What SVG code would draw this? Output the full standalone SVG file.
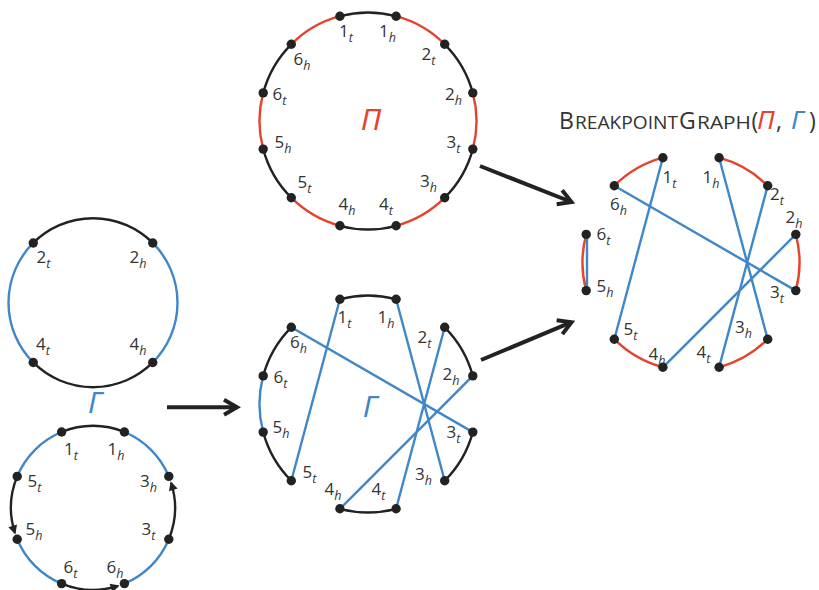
<svg xmlns="http://www.w3.org/2000/svg" width="819" height="590" viewBox="0 0 819 590">
<style>
.k{fill:none;stroke:#222;stroke-width:2.4}
.r{fill:none;stroke:#e4432d;stroke-width:2.4}
.b{fill:none;stroke:#3f87c7;stroke-width:2.4}
.big{fill:none;stroke:#222;stroke-width:4}
.d{fill:#222}
.l{font-family:"Open Sans","Noto Sans",sans-serif;font-size:17px;fill:#333}
.s{font-size:12.5px;font-style:italic}
.g{font-family:"Noto Sans","DejaVu Sans",sans-serif;font-style:italic}
.t{font-family:"Open Sans","Noto Sans",sans-serif;fill:#333}
</style>
<defs>
<marker id="tri" viewBox="-8 -5 11 10" refX="0" refY="0" markerWidth="11" markerHeight="10" markerUnits="userSpaceOnUse" orient="auto" overflow="visible">
<path d="M2,0 L-7,-4.5 L-7,4.5 Z" fill="#222"/>
</marker>
<marker id="vee" viewBox="-20 -11 27 22" refX="0" refY="0" markerWidth="27" markerHeight="22" markerUnits="userSpaceOnUse" orient="auto" overflow="visible">
<path d="M-13,-7.5 L0,0 L-13,7.5" fill="none" stroke="#222" stroke-width="4"/>
</marker>
</defs>

<g id="genome-pi">
<path class="k" d="M339.9,16.2 A108.5,108.5 0 0 1 396.1,16.2"/>
<path class="k" d="M444.7,44.3 A108.5,108.5 0 0 1 472.8,92.9"/>
<path class="k" d="M472.8,149.1 A108.5,108.5 0 0 1 444.7,197.7"/>
<path class="k" d="M396.1,225.8 A108.5,108.5 0 0 1 339.9,225.8"/>
<path class="k" d="M291.3,197.7 A108.5,108.5 0 0 1 263.2,149.1"/>
<path class="k" d="M263.2,92.9 A108.5,108.5 0 0 1 291.3,44.3"/>
<path class="r" d="M396.1,16.2 A108.5,108.5 0 0 1 444.7,44.3"/>
<path class="r" d="M472.8,92.9 A108.5,108.5 0 0 1 472.8,149.1"/>
<path class="r" d="M444.7,197.7 A108.5,108.5 0 0 1 396.1,225.8"/>
<path class="r" d="M339.9,225.8 A108.5,108.5 0 0 1 291.3,197.7"/>
<path class="r" d="M263.2,149.1 A108.5,108.5 0 0 1 263.2,92.9"/>
<path class="r" d="M291.3,44.3 A108.5,108.5 0 0 1 339.9,16.2"/>
<circle class="d" cx="339.9" cy="16.2" r="4.7"/><circle class="d" cx="396.1" cy="16.2" r="4.7"/>
<circle class="d" cx="444.7" cy="44.3" r="4.7"/><circle class="d" cx="472.8" cy="92.9" r="4.7"/>
<circle class="d" cx="472.8" cy="149.1" r="4.7"/><circle class="d" cx="444.7" cy="197.7" r="4.7"/>
<circle class="d" cx="396.1" cy="225.8" r="4.7"/><circle class="d" cx="339.9" cy="225.8" r="4.7"/>
<circle class="d" cx="291.3" cy="197.7" r="4.7"/><circle class="d" cx="263.2" cy="149.1" r="4.7"/>
<circle class="d" cx="263.2" cy="92.9" r="4.7"/><circle class="d" cx="291.3" cy="44.3" r="4.7"/>
<text class="l" x="339" y="37">1<tspan class="s" dy="5">t</tspan></text>
<text class="l" x="379" y="37">1<tspan class="s" dy="5">h</tspan></text>
<text class="l" x="421.5" y="60">2<tspan class="s" dy="5">t</tspan></text>
<text class="l" x="445" y="100">2<tspan class="s" dy="5">h</tspan></text>
<text class="l" x="446.5" y="148">3<tspan class="s" dy="5">t</tspan></text>
<text class="l" x="420" y="187">3<tspan class="s" dy="5">h</tspan></text>
<text class="l" x="379" y="210">4<tspan class="s" dy="5">t</tspan></text>
<text class="l" x="338.5" y="210">4<tspan class="s" dy="5">h</tspan></text>
<text class="l" x="297.5" y="188">5<tspan class="s" dy="5">t</tspan></text>
<text class="l" x="274.5" y="148">5<tspan class="s" dy="5">h</tspan></text>
<text class="l" x="272.5" y="100">6<tspan class="s" dy="5">t</tspan></text>
<text class="l" x="293.5" y="65">6<tspan class="s" dy="5">h</tspan></text>
<text class="g" x="371" y="130" font-size="30" fill="#e4432d" text-anchor="middle">Π</text>
</g>

<g id="genome-gamma-chr1">
<path class="k" d="M33.25,242.95 A84.5,84.5 0 0 1 152.75,242.95"/>
<path class="k" d="M152.75,362.45 A84.5,84.5 0 0 1 33.25,362.45"/>
<path class="b" d="M152.75,242.95 A84.5,84.5 0 0 1 152.75,362.45"/>
<path class="b" d="M33.25,362.45 A84.5,84.5 0 0 1 33.25,242.95"/>
<circle class="d" cx="33.25" cy="242.95" r="4.7"/><circle class="d" cx="152.75" cy="242.95" r="4.7"/>
<circle class="d" cx="152.75" cy="362.45" r="4.7"/><circle class="d" cx="33.25" cy="362.45" r="4.7"/>
<text class="l" x="36.5" y="263">2<tspan class="s" dy="5">t</tspan></text>
<text class="l" x="129.5" y="263">2<tspan class="s" dy="5">h</tspan></text>
<text class="l" x="36" y="350">4<tspan class="s" dy="5">t</tspan></text>
<text class="l" x="129.5" y="350">4<tspan class="s" dy="5">h</tspan></text>
</g>

<g id="gamma-label">
<text class="g" x="95" y="413" font-size="29" fill="#3f87c7" text-anchor="middle">Γ</text>
</g>

<g id="genome-gamma-chr2">
<path class="k" d="M61.6,432 A82,82 0 0 1 124.4,432"/>
<path class="b" d="M124.4,432 A82,82 0 0 1 168.8,476.4"/>
<path class="b" d="M168.8,539.2 A82,82 0 0 1 124.4,583.6"/>
<path class="b" d="M61.6,583.6 A82,82 0 0 1 17.2,539.2"/>
<path class="b" d="M17.2,476.4 A82,82 0 0 1 61.6,432"/>
<path class="k" d="M168.8,539.2 A82,82 0 0 0 171.2,483.1" marker-end="url(#tri)"/>
<path class="k" d="M61.6,583.6 A82,82 0 0 0 117.7,586" marker-end="url(#tri)"/>
<path class="k" d="M17.2,476.4 A82,82 0 0 0 14.8,532.5" marker-end="url(#tri)"/>
<circle class="d" cx="61.6" cy="432" r="4.7"/><circle class="d" cx="124.4" cy="432" r="4.7"/>
<circle class="d" cx="168.8" cy="476.4" r="4.7"/><circle class="d" cx="168.8" cy="539.2" r="4.7"/>
<circle class="d" cx="124.4" cy="583.6" r="4.7"/><circle class="d" cx="61.6" cy="583.6" r="4.7"/>
<circle class="d" cx="17.2" cy="539.2" r="4.7"/><circle class="d" cx="17.2" cy="476.4" r="4.7"/>
<text class="l" x="64" y="455">1<tspan class="s" dy="5">t</tspan></text>
<text class="l" x="107.5" y="455">1<tspan class="s" dy="5">h</tspan></text>
<text class="l" x="140" y="487">3<tspan class="s" dy="5">h</tspan></text>
<text class="l" x="141.5" y="535">3<tspan class="s" dy="5">t</tspan></text>
<text class="l" x="106.5" y="573">6<tspan class="s" dy="5">h</tspan></text>
<text class="l" x="63.5" y="573">6<tspan class="s" dy="5">t</tspan></text>
<text class="l" x="25.5" y="535">5<tspan class="s" dy="5">h</tspan></text>
<text class="l" x="27.5" y="487">5<tspan class="s" dy="5">t</tspan></text>
</g>

<g id="gamma-on-pi-layout">
<path class="k" d="M339.9,299.2 A108.5,108.5 0 0 1 396.1,299.2"/>
<path class="k" d="M444.7,327.3 A108.5,108.5 0 0 1 472.8,375.9"/>
<path class="k" d="M472.8,432.1 A108.5,108.5 0 0 1 444.7,480.7"/>
<path class="k" d="M396.1,508.8 A108.5,108.5 0 0 1 339.9,508.8"/>
<path class="k" d="M291.3,480.7 A108.5,108.5 0 0 1 263.2,432.1"/>
<path class="k" d="M263.2,375.9 A108.5,108.5 0 0 1 291.3,327.3"/>
<path class="b" d="M263.2,432.1 A108.5,108.5 0 0 1 263.2,375.9"/>
<path class="b" d="M339.9,299.2 L291.3,480.7"/>
<path class="b" d="M396.1,299.2 L444.7,480.7"/>
<path class="b" d="M444.7,327.3 L396.1,508.8"/>
<path class="b" d="M472.8,375.9 L339.9,508.8"/>
<path class="b" d="M291.3,327.3 L472.8,432.1"/>
<circle class="d" cx="339.9" cy="299.2" r="4.7"/><circle class="d" cx="396.1" cy="299.2" r="4.7"/>
<circle class="d" cx="444.7" cy="327.3" r="4.7"/><circle class="d" cx="472.8" cy="375.9" r="4.7"/>
<circle class="d" cx="472.8" cy="432.1" r="4.7"/><circle class="d" cx="444.7" cy="480.7" r="4.7"/>
<circle class="d" cx="396.1" cy="508.8" r="4.7"/><circle class="d" cx="339.9" cy="508.8" r="4.7"/>
<circle class="d" cx="291.3" cy="480.7" r="4.7"/><circle class="d" cx="263.2" cy="432.1" r="4.7"/>
<circle class="d" cx="263.2" cy="375.9" r="4.7"/><circle class="d" cx="291.3" cy="327.3" r="4.7"/>
<text class="l" x="337.5" y="323">1<tspan class="s" dy="5">t</tspan></text>
<text class="l" x="377.5" y="323">1<tspan class="s" dy="5">h</tspan></text>
<text class="l" x="417.5" y="343">2<tspan class="s" dy="5">t</tspan></text>
<text class="l" x="442.5" y="380">2<tspan class="s" dy="5">h</tspan></text>
<text class="l" x="446.5" y="438">3<tspan class="s" dy="5">t</tspan></text>
<text class="l" x="415" y="480">3<tspan class="s" dy="5">h</tspan></text>
<text class="l" x="371.5" y="495">4<tspan class="s" dy="5">t</tspan></text>
<text class="l" x="324.5" y="495">4<tspan class="s" dy="5">h</tspan></text>
<text class="l" x="302.5" y="478">5<tspan class="s" dy="5">t</tspan></text>
<text class="l" x="272.5" y="433">5<tspan class="s" dy="5">h</tspan></text>
<text class="l" x="273.5" y="383">6<tspan class="s" dy="5">t</tspan></text>
<text class="l" x="290" y="348">6<tspan class="s" dy="5">h</tspan></text>
<text class="g" x="370" y="416.5" font-size="30" fill="#3f87c7" text-anchor="middle">Γ</text>
</g>

<g id="breakpoint-graph">
<path class="r" d="M719.1,157.7 A108.5,108.5 0 0 1 767.7,185.8"/>
<path class="r" d="M795.8,234.4 A108.5,108.5 0 0 1 795.8,290.6"/>
<path class="r" d="M767.7,339.2 A108.5,108.5 0 0 1 719.1,367.3"/>
<path class="r" d="M662.9,367.3 A108.5,108.5 0 0 1 614.3,339.2"/>
<path class="r" d="M586.2,290.6 A108.5,108.5 0 0 1 586.2,234.4"/>
<path class="r" d="M614.3,185.8 A108.5,108.5 0 0 1 662.9,157.7"/>
<path class="b" d="M662.9,157.7 L614.3,339.2"/>
<path class="b" d="M719.1,157.7 L767.7,339.2"/>
<path class="b" d="M767.7,185.8 L719.1,367.3"/>
<path class="b" d="M795.8,234.4 L662.9,367.3"/>
<path class="b" d="M614.3,185.8 L795.8,290.6"/>
<path class="b" d="M587,234.4 L587,290.6"/>
<circle class="d" cx="662.9" cy="157.7" r="4.7"/><circle class="d" cx="719.1" cy="157.7" r="4.7"/>
<circle class="d" cx="767.7" cy="185.8" r="4.7"/><circle class="d" cx="795.8" cy="234.4" r="4.7"/>
<circle class="d" cx="795.8" cy="290.6" r="4.7"/><circle class="d" cx="767.7" cy="339.2" r="4.7"/>
<circle class="d" cx="719.1" cy="367.3" r="4.7"/><circle class="d" cx="662.9" cy="367.3" r="4.7"/>
<circle class="d" cx="614.3" cy="339.2" r="4.7"/><circle class="d" cx="586.2" cy="290.6" r="4.7"/>
<circle class="d" cx="586.2" cy="234.4" r="4.7"/><circle class="d" cx="614.3" cy="185.8" r="4.7"/>
<text class="l" x="662.5" y="183">1<tspan class="s" dy="5">t</tspan></text>
<text class="l" x="702.5" y="183">1<tspan class="s" dy="5">h</tspan></text>
<text class="l" x="770" y="200">2<tspan class="s" dy="5">t</tspan></text>
<text class="l" x="785.5" y="223">2<tspan class="s" dy="5">h</tspan></text>
<text class="l" x="770" y="298">3<tspan class="s" dy="5">t</tspan></text>
<text class="l" x="735" y="333">3<tspan class="s" dy="5">h</tspan></text>
<text class="l" x="696.5" y="358">4<tspan class="s" dy="5">t</tspan></text>
<text class="l" x="648.5" y="360">4<tspan class="s" dy="5">h</tspan></text>
<text class="l" x="623.5" y="335">5<tspan class="s" dy="5">t</tspan></text>
<text class="l" x="596.5" y="291.5">5<tspan class="s" dy="5">h</tspan></text>
<text class="l" x="596.5" y="240">6<tspan class="s" dy="5">t</tspan></text>
<text class="l" x="610" y="210">6<tspan class="s" dy="5">h</tspan></text>
</g>

<g id="title">
<text class="t" y="128.5"><tspan x="559" font-size="23">B</tspan><tspan x="575" font-size="17.5" textLength="103" lengthAdjust="spacingAndGlyphs">REAKPOINT</tspan><tspan x="679" font-size="23">G</tspan><tspan x="697" font-size="17.5" textLength="54" lengthAdjust="spacingAndGlyphs">RAPH</tspan><tspan x="751.5" font-size="23">(</tspan><tspan class="g" x="757" font-size="26" fill="#e4432d">Π</tspan><tspan x="776" font-size="23">,</tspan><tspan class="g" x="791" font-size="26" fill="#3f87c7">Γ</tspan><tspan x="809" font-size="23">)</tspan></text>
</g>

<g id="connectors">
<path class="big" d="M480,166 L571.5,202" marker-end="url(#vee)"/>
<path class="big" d="M481,360 L571.5,322.2" marker-end="url(#vee)"/>
<path class="big" d="M167,407.3 L237,407.3" marker-end="url(#vee)"/>
</g>
</svg>
